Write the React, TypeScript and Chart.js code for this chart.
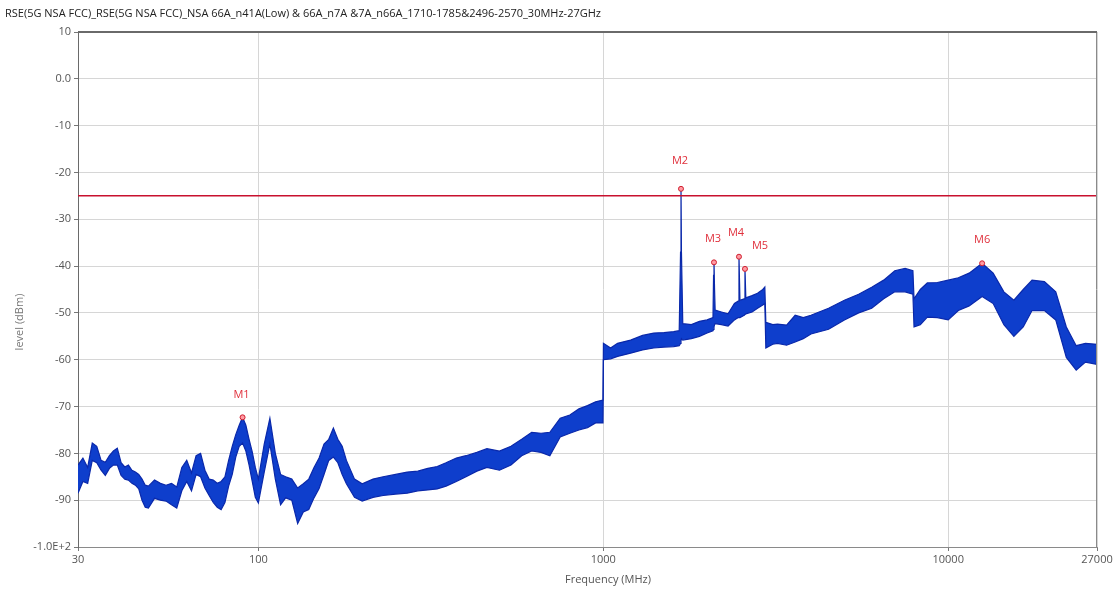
import React, { useEffect, useRef } from "react";
import { Chart, registerables } from "chart.js";

Chart.register(...registerables);

const TITLE =
  "RSE(5G NSA FCC)_RSE(5G NSA FCC)_NSA 66A_n41A(Low) & 66A_n7A &7A_n66A_1710-1785&2496-2570_30MHz-27GHz";

// Frequency points (MHz) of the trace envelope
const traceFreqs = [
  30, 31, 32, 33, 34, 35, 36, 37, 38, 39, 40, 41, 42, 43, 44, 45, 46, 47, 48, 50, 52, 54, 56, 58, 60, 62, 64, 66, 68, 70, 72, 74, 76, 78, 80, 82, 84, 86, 88, 90, 92, 94, 96, 98, 100,
  104, 108, 112, 116, 120, 125, 130, 135, 140, 145, 150, 155, 160, 165, 170, 175, 180, 190, 200, 215, 230, 250, 270, 290, 310, 330, 350, 375, 400,
  430, 460, 500, 540, 580, 620, 660, 700, 750, 800, 850, 900, 950, 998,
  1001, 1050, 1100, 1200, 1300, 1400, 1500, 1600, 1660, 1675, 1680, 1685, 1700, 1800, 1900, 2000, 2080, 2088, 2094, 2102, 2110, 2200, 2300, 2400, 2460, 2474, 2490, 2560, 2575, 2590, 2700, 2800, 2900, 2940, 2960, 3100,
  3200, 3400, 3600, 3800, 4000, 4500, 5000, 5500, 6000, 6500, 7000, 7500, 7900, 7960, 8300,
  8700, 9300, 10000, 10700, 11500, 12540, 13500, 14500, 15500, 16500, 17500, 19000, 20500, 22000, 23500, 25000, 27000,
];
// Upper edge of the noisy trace (dBm)
const traceUpper = [
  -82.5, -81, -83, -77.8, -78.5, -81.5, -81.9, -80.5, -79.5, -78.9, -82, -82.9, -82.5, -83.6, -84, -84.5, -85.5, -86.8, -87, -85.7, -86.4, -86.8, -86.4, -87.2, -83, -81.5, -84.2, -80.5, -80, -83.6, -85.5, -85.7, -86.4, -86, -85, -81.5, -78.5, -76, -74, -72.3, -74, -77, -79.7, -83, -85.5,
  -78, -72.5, -80, -84.5, -85, -85.5, -87.4, -86.5, -85.5, -83, -81, -78, -77, -74.6, -77, -78.5, -81.5, -85.5, -86.5, -85.5, -85, -84.5, -84, -83.8, -83.2, -82.8, -82, -81, -80.5,
  -79.8, -79, -79.5, -78.5, -77, -75.5, -75.7, -75.5, -72.5, -71.8, -70.5, -69.8, -69, -68.6,
  -56.5, -57.5, -56.5, -55.8, -54.8, -54.3, -54.2, -54, -53.8, -37, -23.5, -37, -52.3, -52.5, -51.8, -51.5, -51, -42, -39.2, -45, -49.4, -49.8, -50.2, -48, -47.5, -38, -47.3, -47, -40.6, -46.8, -46.3, -45.8, -45, -44.5, -52, -52.5,
  -52.4, -52.6, -50.5, -51, -50.5, -49, -47.3, -46, -44.5, -43, -41, -40.5, -41, -47, -45,
  -43.6, -43.5, -43, -42.5, -41.5, -39.4, -41.5, -45.5, -47.3, -45, -43, -43.3, -45.5, -53, -57, -56.5, -56.7,
];
// Lower edge of the noisy trace (dBm)
const traceLower = [
  -88.5, -86, -86.4, -81.5, -82, -83.6, -84.7, -83.2, -82.5, -82.5, -84.7, -85.5, -85.7, -86.4, -86.8, -87.6, -90, -91.5, -91.7, -89.6, -90, -90.2, -91, -91.7, -88, -86, -88, -84.5, -85, -87.4, -89, -90.5, -91.5, -92, -90.5, -87, -84.5, -80.8, -78.5, -77.8, -79.5, -82.5, -86, -89.4, -90.6,
  -84, -78, -85.5, -91, -89.5, -90, -95, -92.5, -92, -89.5, -87.5, -84.5, -81.5, -80.8, -82, -84.5, -86.5, -89.4, -90.2, -89.4, -89, -88.7, -88.5, -88, -87.8, -87.6, -87, -86, -85,
  -83.8, -83, -83.6, -82.5, -80.5, -79.5, -79.8, -80.5, -76.5, -75.7, -75, -74.5, -73.5, -73.5,
  -60, -59.8, -59.3, -58.6, -57.9, -57.5, -57.3, -57.2, -57, -56.5, -56, -55.5, -55.8, -55.5, -55, -54.3, -53.8, -53.5, -53, -52.5, -52.3, -52.5, -52.8, -51.5, -51, -51, -51, -50.5, -50.5, -50.2, -49.8, -49, -48.3, -48, -57.5, -56.7,
  -56.5, -56.9, -56.2, -55.5, -54.5, -53.5, -51.5, -50, -49, -47, -45.5, -45.5, -46, -53, -52.5,
  -50.9, -51, -51.5, -49.5, -48.5, -46.5, -48, -52.5, -55, -53, -49.5, -49.5, -51.5, -59.5, -62.2, -60.5, -61,
];

const markerNames = ["M1", "M2", "M3", "M4", "M5", "M6"];
const markerFreqs = [90, 1680, 2094, 2474, 2575, 12540];
const markerLevels = [-72.3, -23.5, -39.2, -38.0, -40.6, -39.4];

const limitLevel = -25;

const xTickValues = [30, 100, 1000, 10000, 27000];
const yMin = -100;
const yMax = 10;

const markerLabelOffsets: [number, number][] = [
  [-1, -22],
  [-1, -28],
  [-1, -23],
  [-3, -24],
  [15, -23],
  [0, -23],
];

export default function App() {
  const ref = useRef<HTMLCanvasElement | null>(null);

  useEffect(() => {
    if (!ref.current) return;
    const lowerPts = traceFreqs.map((f, i) => ({ x: f, y: traceLower[i] }));
    const upperPts = traceFreqs.map((f, i) => ({ x: f, y: traceUpper[i] }));
    const markerPts = markerFreqs.map((f, i) => ({ x: f, y: markerLevels[i] }));
    const limitPts = [
      { x: 30, y: limitLevel },
      { x: 27000, y: limitLevel },
    ];
    const blue = "rgb(14,62,204)";
    const edge = "rgb(10,40,170)";

    const decor = {
      id: "decor",
      beforeDraw(chart: any) {
        const { ctx } = chart;
        ctx.save();
        ctx.fillStyle = "#ffffff";
        ctx.fillRect(0, 0, chart.width, chart.height);
        ctx.restore();
      },
      afterDatasetsDraw(chart: any) {
        const { ctx, chartArea, scales } = chart;
        ctx.save();
        ctx.strokeStyle = "#8a8a8a";
        ctx.lineWidth = 1;
        ctx.beginPath();
        ctx.moveTo(chartArea.right - 0.5, chartArea.top);
        ctx.lineTo(chartArea.right - 0.5, chartArea.bottom);
        ctx.stroke();
        ctx.strokeStyle = "#6a6a6a";
        ctx.lineWidth = 2;
        ctx.beginPath();
        ctx.moveTo(chartArea.left, chartArea.top);
        ctx.lineTo(chartArea.right, chartArea.top);
        ctx.stroke();
        ctx.font = '11px "Open Sans", "DejaVu Sans", sans-serif';
        ctx.fillStyle = "#e0303c";
        ctx.textAlign = "center";
        ctx.textBaseline = "middle";
        markerNames.forEach((n, i) => {
          const px = scales.x.getPixelForValue(markerFreqs[i]);
          const py = scales.y.getPixelForValue(markerLevels[i]);
          const [dx, dy] = markerLabelOffsets[i];
          ctx.fillText(n, px + dx, py + dy);
        });
        ctx.fillStyle = "#222";
        ctx.textAlign = "left";
        ctx.font = '11px "Open Sans", "DejaVu Sans", sans-serif';
        ctx.fillText(TITLE, 5, 14);
        ctx.fillStyle = "#555";
        ctx.textAlign = "center";
        ctx.font = '11px "Open Sans", sans-serif';
        ctx.fillText("Frequency (MHz)", 608, 580);
        ctx.translate(20, 322);
        ctx.rotate(-Math.PI / 2);
        ctx.fillStyle = "#777";
        ctx.fillText("level (dBm)", 0, 0);
        ctx.restore();
      },
    };

    const chart = new Chart(ref.current, {
      type: "line",
      data: {
        datasets: [
          {
            data: lowerPts,
            borderColor: edge,
            backgroundColor: blue,
            borderWidth: 1.2,
            pointRadius: 0,
            fill: false,
            order: 3,
          },
          {
            data: upperPts,
            borderColor: edge,
            backgroundColor: blue,
            borderWidth: 1.2,
            pointRadius: 0,
            fill: "-1",
            order: 3,
          },
          {
            data: limitPts,
            borderColor: "#c8102e",
            borderWidth: 1.5,
            pointRadius: 0,
            fill: false,
            order: 2,
          },
          {
            data: markerPts,
            showLine: false,
            pointRadius: 2.5,
            pointBorderWidth: 1,
            pointBorderColor: "#d02030",
            pointBackgroundColor: "#ff9aa2",
            order: 1,
          },
        ],
      },
      options: {
        responsive: false,
        animation: false,
        parsing: false,
        normalized: true,
        layout: { padding: { top: 32, right: 20, left: 0, bottom: 0 } },
        plugins: {
          legend: { display: false },
          title: { display: false },
          tooltip: { enabled: false },
        },
        elements: { line: { tension: 0 } },
        scales: {
          x: {
            type: "logarithmic",
            min: 30,
            max: 27000,
            afterBuildTicks(axis: any) {
              axis.ticks = xTickValues.map((v) => ({ value: v }));
            },
            afterFit(axis: any) {
              axis.height = 46;
            },
            ticks: {
              autoSkip: false,
              maxRotation: 0,
              color: "#555",
              font: { family: '"Open Sans", sans-serif', size: 11 },
              callback: (v: any) => String(v),
              padding: 2,
            },
            grid: { color: "#d6d6d6", tickColor: "#777", tickLength: 4 },
            border: { display: true, color: "#8a8a8a" },
          },
          y: {
            type: "linear",
            min: yMin,
            max: yMax,
            afterBuildTicks(axis: any) {
              const t = [];
              for (let v = yMin; v <= yMax; v += 10) t.push({ value: v });
              axis.ticks = t;
            },
            afterFit(axis: any) {
              axis.width = 78;
            },
            ticks: {
              color: "#555",
              font: { family: '"Open Sans", sans-serif', size: 11 },
              padding: 3,
              callback: (v: any) => (v === 0 ? "0.0" : v === -100 ? "-1.0E+2" : String(v)),
            },
            grid: { color: "#d6d6d6", tickColor: "#777", tickLength: 4 },
            border: { display: true, color: "#6a6a6a" },
          },
        },
      } as any,
      plugins: [decor],
    });
    return () => chart.destroy();
  }, []);

  return (
    <div style={{ position: "fixed", left: 0, top: 0, width: 1117, height: 593, background: "#fff" }}>
      <canvas ref={ref} width={1117} height={593} />
    </div>
  );
}
